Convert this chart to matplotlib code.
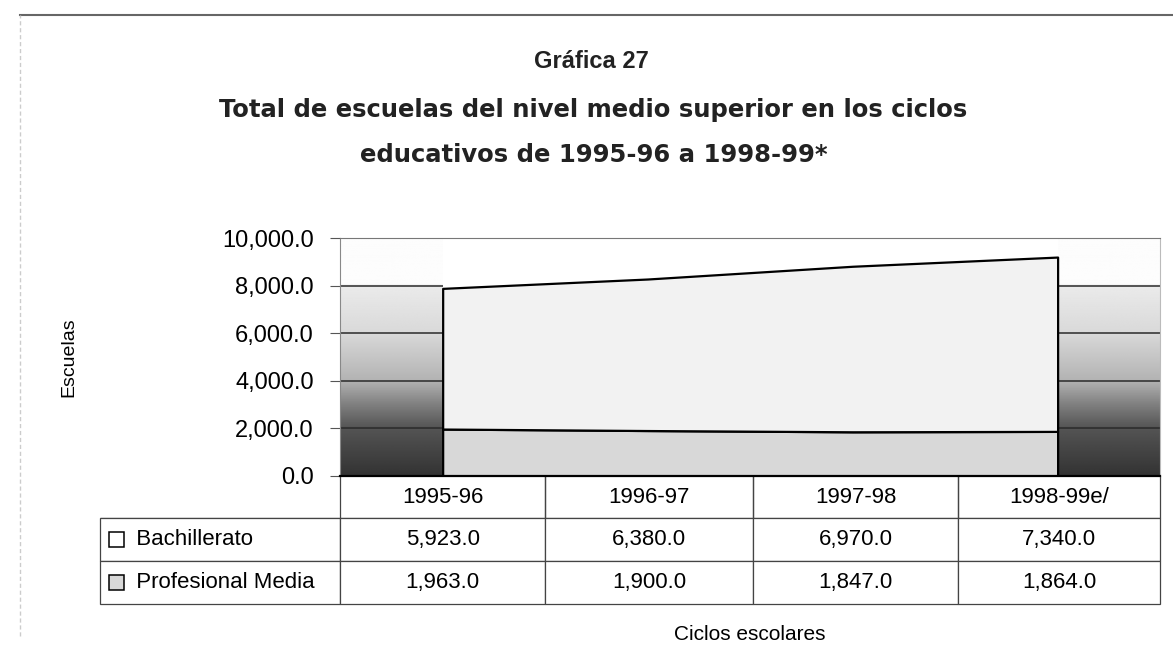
import numpy as np
import matplotlib
matplotlib.use("Agg")
import matplotlib.pyplot as plt
from matplotlib.patches import Rectangle
from matplotlib.lines import Line2D

plt.rcParams.update({"font.family": ["Liberation Sans", "DejaVu Sans"]})

# data
CICLOS = ["1995-96", "1996-97", "1997-98", "1998-99e/"]
BACHILLERATO = [5923.0, 6380.0, 6970.0, 7340.0]
PROFESIONAL = [1963.0, 1900.0, 1847.0, 1864.0]
SERIES = ["Bachillerato", "Profesional Media"]
YTICKS = [0, 2000, 4000, 6000, 8000, 10000]

x = np.arange(len(CICLOS))
bach = np.array(BACHILLERATO)
prof = np.array(PROFESIONAL)

fig = plt.figure(figsize=(11.73, 6.69), dpi=100)
ax = fig.add_axes([0.290, 0.289, 0.699, 0.355])
ax.set_xlim(-0.5, len(CICLOS) - 0.5)
ax.set_ylim(0, 10000)

# shaded side walls (3-D look of the original Excel chart), dark at the floor
yy = np.linspace(0, 10000, 300)
shade = np.interp(yy, [0, 2000, 3000, 4000, 6000, 8000, 8100, 10000],
                  [0.2, 0.33, 0.5, 0.7, 0.85, 0.92, 0.99, 0.99]).reshape(-1, 1)
for x0, x1 in [(-0.5, 0), (len(CICLOS) - 1, len(CICLOS) - 0.5)]:
    ax.imshow(shade, cmap="gray", vmin=0, vmax=1, origin="lower",
              extent=(x0, x1, 0, 10000), aspect="auto", zorder=0)
    ax.hlines(YTICKS[1:-1], x0, x1, color="#2a2a2a", lw=1.1, zorder=1)

# stacked areas
ax.fill_between(x, 0, prof, facecolor="#d8d8d8", edgecolor="black", lw=1.6, zorder=2)
ax.fill_between(x, prof, prof + bach, facecolor="#f2f2f2", edgecolor="black", lw=1.6, zorder=2)

ax.set_yticks(YTICKS)
ax.set_yticklabels([f"{v:,.1f}" for v in YTICKS], fontsize=17)
ax.tick_params(axis="y", direction="out", length=7, pad=12, color="#555")
ax.set_xticks([])
ax.spines["top"].set_color("#777")
ax.spines["top"].set_linestyle((0, (3, 1)))
ax.spines["left"].set_color("#888")
ax.spines["right"].set_color("#bbb")
ax.spines["bottom"].set_linewidth(1.6)
ax.set_ylabel("Escuelas", fontsize=14, labelpad=104)

# data table under the plot
rows = [[""] + CICLOS,
        [SERIES[0]] + [f"{v:,.1f}" for v in BACHILLERATO],
        [SERIES[1]] + [f"{v:,.1f}" for v in PROFESIONAL]]
colw = [240, 205, 208, 205, 202]
tb_left, tb_w, tb_h = -0.2927, 1.2927, 0.54
tbl = ax.table(cellText=rows, colWidths=[c / sum(colw) for c in colw],
               bbox=[tb_left, -tb_h, tb_w, tb_h], cellLoc="center")
tbl.auto_set_font_size(False)
for (r, c), cell in tbl.get_celld().items():
    cell.set_edgecolor("#444")
    cell.set_linewidth(0.9)
    cell.get_text().set_fontsize(16)
    if r == 0:
        cell.visible_edges = "B" if c == 0 else "BLR"
    else:
        cell.visible_edges = "closed"
    if c == 0 and r > 0:
        cell.get_text().set_text("  " + rows[r][0])
        cell.get_text().set_horizontalalignment("left")
        cell._loc = "left"

# legend keys in the row label cells
key_fill = ["white", "#d8d8d8"]
row_h = tb_h / 3
for i in range(2):
    yc = -row_h * (i + 1) - row_h / 2
    ax.add_patch(Rectangle((tb_left + 0.011, yc - 0.032), 0.018, 0.064,
                           transform=ax.transAxes, facecolor=key_fill[i],
                           edgecolor="black", lw=1.1, clip_on=False))

fig.text(0.639, 1 - 635 / 669, "Ciclos escolares", ha="center", va="center", fontsize=15)

# titles
fig.text(0.504, 1 - 62 / 669, "Gráfica 27", ha="center", va="center",
         fontsize=17, fontweight="bold", color="#222")
for ty, line in [(110, "Total de escuelas del nivel medio superior en los ciclos"),
                 (155, "educativos de 1995-96 a 1998-99*")]:
    fig.text(0.506, 1 - ty / 669, line, ha="center", va="center", fontsize=17.5,
             fontweight="bold", color="#222", family=["DejaVu Sans"])

# outer frame of the scanned page
fig.add_artist(Line2D([20 / 1173, 1], [1 - 15 / 669, 1 - 15 / 669], color="#666", lw=1.5))
fig.add_artist(Line2D([20 / 1173, 20 / 1173], [0.05, 1 - 15 / 669], color="#ccc", lw=1.0,
                      linestyle=(0, (3, 2))))

fig.savefig("out.png", dpi=100)
